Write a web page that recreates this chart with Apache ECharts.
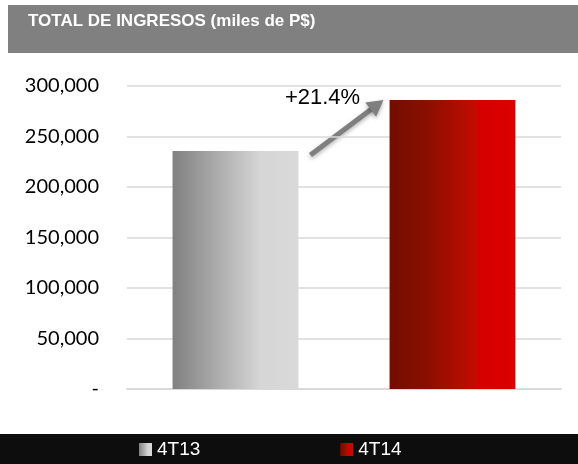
<!DOCTYPE html>
<html>
<head>
<meta charset="utf-8">
<script src="https://cdn.jsdelivr.net/npm/echarts@6/dist/echarts.min.js"></script>
<style>
  html, body { margin: 0; padding: 0; background: #fff; }
  #chart { width: 578px; height: 464px; }
</style>
</head>
<body>
<div id="chart"></div>
<script>
// periodos y valores (miles de P$)
var periodos = ['4T13', '4T14'];
var ingresos = [235700, 286100];
var variacion = '+21.4%';
var yTicks = [0, 50000, 100000, 150000, 200000, 250000, 300000];

var grisGrad = new echarts.graphic.LinearGradient(0, 0, 1, 0, [
    {offset: 0, color: '#808080'},
    {offset: 0.7, color: '#d6d6d6'},
    {offset: 1, color: '#d9d9d9'}
]);
var rojoGrad = new echarts.graphic.LinearGradient(0, 0, 1, 0, [
    {offset: 0, color: '#720e00'},
    {offset: 0.3, color: '#8a0f00'},
    {offset: 0.69, color: '#c40c00'},
    {offset: 0.7, color: '#d40000'},
    {offset: 1, color: '#dd0000'}
]);
var colores = [grisGrad, rojoGrad];

var fondos = [
    {type: 'rect', left: 8, top: 5, shape: {width: 570, height: 48}, style: {fill: '#808080'}, z: -1},
    {type: 'text', left: 28, top: 13, style: {text: 'TOTAL DE INGRESOS (miles de P$)', fill: '#ffffff',
        font: 'bold 17px "Liberation Sans"'}},
    {type: 'rect', left: 0, top: 434, shape: {width: 578, height: 30}, style: {fill: '#0d0d0d'}, z: -1}
];

var chart = echarts.init(document.getElementById('chart'));

var option = {
    backgroundColor: '#ffffff',
    animation: false,
    grid: {left: 127, right: 17, top: 86, bottom: 75},
    legend: {
        data: periodos,
        left: 139,
        top: 440,
        padding: 0,
        itemWidth: 13,
        itemHeight: 13,
        itemGap: 140,
        icon: 'rect',
        textStyle: {color: '#ffffff', fontSize: 19, fontFamily: 'Liberation Sans'}
    },
    xAxis: {
        type: 'category',
        data: periodos,
        axisLine: {show: true, lineStyle: {color: '#d9d9d9', width: 2}},
        axisTick: {show: false},
        axisLabel: {show: false}
    },
    yAxis: {
        type: 'value',
        min: yTicks[0],
        max: yTicks[yTicks.length - 1],
        interval: 50000,
        axisLine: {show: false},
        axisTick: {show: false},
        splitLine: {lineStyle: {color: '#d9d9d9', width: 1.5}},
        axisLabel: {
            margin: 28,
            color: '#000000',
            fontSize: 20,
            fontFamily: 'Lato',
            formatter: function (v) {
                return v === 0 ? '-' : v.toLocaleString('en-US');
            }
        }
    },
    series: periodos.map(function (p, i) {
        return {
            name: p,
            type: 'bar',
            barWidth: '58%',
            barGap: '-100%',
            itemStyle: {color: colores[i]},
            data: periodos.map(function (q, j) { return j === i ? ingresos[j] : '-'; })
        };
    }),
    graphic: fondos
};
chart.setOption(option);

// flecha de variacion entre las dos barras
var p0 = chart.convertToPixel({seriesIndex: 0}, [0, ingresos[0]]);
var p1 = chart.convertToPixel({seriesIndex: 1}, [1, ingresos[1]]);
var x1 = p0[0] + 75, y1 = p0[1] + 4;
var x2 = p1[0] - 69, y2 = p1[1];
var ang = Math.atan2(y2 - y1, x2 - x1);
var len = Math.sqrt((x2 - x1) * (x2 - x1) + (y2 - y1) * (y2 - y1));
chart.setOption({
    graphic: fondos.concat([
        {
            type: 'group',
            x: x1, y: y1,
            rotation: -ang,
            children: [
                {type: 'line', shape: {x1: 0, y1: 0, x2: len - 12, y2: 0},
                    style: {stroke: '#7f7f7f', lineWidth: 5, shadowBlur: 4, shadowColor: 'rgba(0,0,0,0.3)', shadowOffsetY: 2}},
                {type: 'polygon', shape: {points: [[len - 16, -9], [len, 0], [len - 16, 9]]},
                    style: {fill: '#7f7f7f', shadowBlur: 4, shadowColor: 'rgba(0,0,0,0.3)', shadowOffsetY: 2}}
            ]
        },
        {type: 'text', x: x1 + 12, y: y2 - 2, style: {text: variacion, fill: '#000000',
            font: '22px "Liberation Sans"', textAlign: 'center', textVerticalAlign: 'middle'}}
    ])
});
</script>
</body>
</html>
